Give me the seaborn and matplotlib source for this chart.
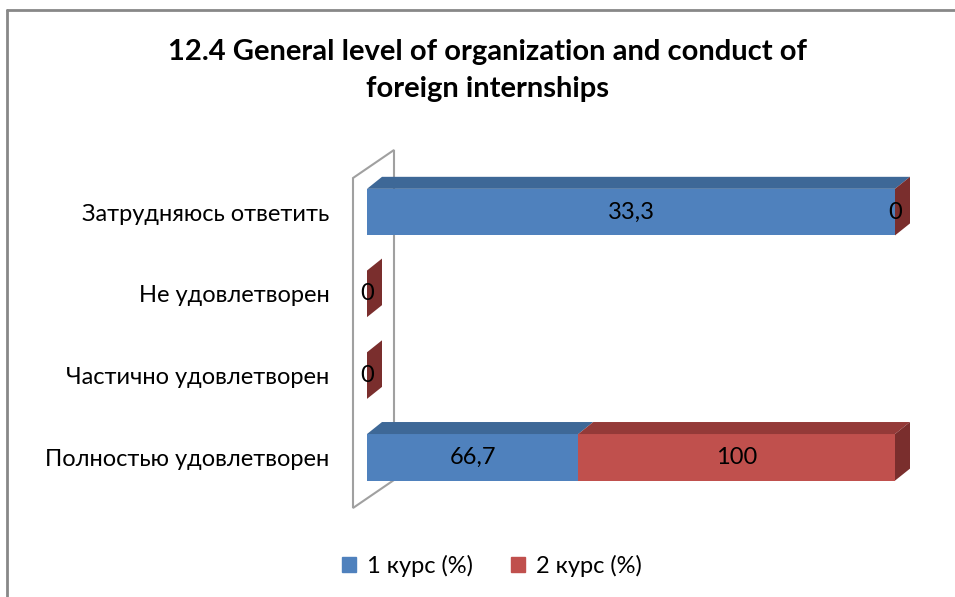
import numpy as np
import pandas as pd
import matplotlib
matplotlib.use("Agg")
import matplotlib.pyplot as plt
import seaborn as sns
from matplotlib.patches import Polygon
from matplotlib.lines import Line2D

categories = ["Затрудняюсь ответить", "Не удовлетворен", "Частично удовлетворен", "Полностью удовлетворен"]
course1 = [33.3, 0, 0, 66.7]
course2 = [0, 0, 0, 100]
label1 = ["33,3", "", "", "66,7"]
label2 = ["0", "0", "0", "100"]

blue, red = "#4F81BD", "#C0504D"
blue_top, red_top, red_side = "#3E6897", "#943A38", "#7A2E2D"

df = pd.DataFrame({"cat": categories, "c1": course1, "c2": course2})
tot = df["c1"] + df["c2"]
df["p1"] = np.where(tot > 0, df["c1"] / tot.replace(0, 1) * 100, 0)
df["p12"] = np.where(tot > 0, 100.0, 0)

sns.set_style("white")
plt.rcParams["font.family"] = ["Lato", "DejaVu Sans"]
plt.rcParams["text.color"] = "black"
plt.rcParams["ytick.color"] = "black"

fig = plt.figure(figsize=(9.55, 5.97), dpi=100)
ax = fig.add_axes([367 / 955, 1 - 508 / 597, 528 / 955, 358 / 597])

sns.barplot(data=df, y="cat", x="p12", color=red, orient="y", width=0.57,
            saturation=1, ax=ax, linewidth=0)
sns.barplot(data=df, y="cat", x="p1", color=blue, orient="y", width=0.57,
            saturation=1, ax=ax, linewidth=0)
ax.set_xlim(0, 100)
ax.set_ylim(3.62, -0.76)

# 3D depth in data units
dx = 15 / 528 * 100
dy = 12 / 81.7
h = 0.57 / 2

# back wall
wall = Polygon([(-14 / 528 * 100, 3.62), (-14 / 528 * 100, -0.76 + 28 / 81.7),
                (27 / 528 * 100, -0.76), (27 / 528 * 100, 3.62 - 28 / 81.7)],
               closed=True, facecolor="none", edgecolor="#A0A0A0", lw=1.5,
               clip_on=False, zorder=0)
ax.add_patch(wall)

for i, row in df.iterrows():
    top = i - h
    segs = [(0, row["p1"], blue_top), (row["p1"], row["p12"], red_top)]
    for x0, x1, c in segs:
        if x1 > x0:
            ax.add_patch(Polygon([(x0, top), (x1, top), (x1 + dx, top - dy), (x0 + dx, top - dy)],
                                 closed=True, facecolor=c, edgecolor="none", clip_on=False, zorder=3))
    xe = row["p12"]
    ax.add_patch(Polygon([(xe, top), (xe + dx, top - dy), (xe + dx, i + h - dy), (xe, i + h)],
                         closed=True, facecolor=red_side, edgecolor="none", clip_on=False, zorder=3))
    if label1[i]:
        ax.text(row["p1"] / 2, i, label1[i], ha="center", va="center", fontsize=17, zorder=5)
    ax.text((row["p1"] + row["p12"]) / 2, i, label2[i], ha="center", va="center", fontsize=17, zorder=5)

ax.set_xlabel("")
ax.set_ylabel("")
ax.set_xticks([])
ax.tick_params(axis="y", length=0, pad=27, labelsize=17)
for s in ax.spines.values():
    s.set_visible(False)

fig.text(0.51, 0.935, "12.4 General level of organization and conduct of\nforeign internships",
         ha="center", va="top", fontsize=21, fontweight="bold", linespacing=1.55)

handles = [plt.Rectangle((0, 0), 1, 1, color=blue), plt.Rectangle((0, 0), 1, 1, color=red)]
fig.legend(handles, ["1 курс (%)", "2 курс (%)"], loc="center", bbox_to_anchor=(0.515, 0.052),
           ncol=2, frameon=False, fontsize=17, handlelength=0.6, handleheight=0.6,
           columnspacing=1.6, handletextpad=0.45)

fig.add_artist(Line2D([7 / 955, 7 / 955], [0, 1 - 10 / 597], color="#888888", lw=2))
fig.add_artist(Line2D([7 / 955, 1], [1 - 10 / 597, 1 - 10 / 597], color="#888888", lw=2))

fig.savefig("out.png", dpi=100)
